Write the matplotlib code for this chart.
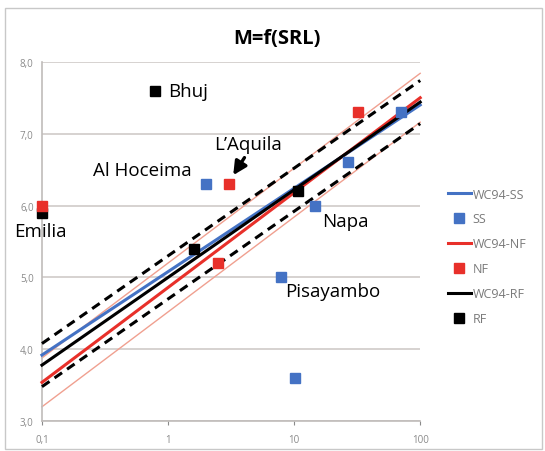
import numpy as np
import matplotlib.pyplot as plt
from matplotlib.patches import Rectangle

# regression lines M = a + b*log10(SRL)
srl_line = [0.1, 100]
wc94 = {'SS': (5.08, 1.16), 'NF': (4.86, 1.32), 'RF': (5.00, 1.22)}
sigma_rf = 0.30
sigma_nf = 0.34

# observed events
ss_srl = [2.0, 14.7, 26.9, 70.6, 7.9, 10.2]
ss_mag = [6.3, 6.0, 6.6, 7.3, 5.0, 3.6]
nf_srl = [0.1, 3.05, 2.5, 32.2]
nf_mag = [6.0, 6.3, 5.2, 7.3]
rf_srl = [0.79, 0.1, 1.6, 10.8]
rf_mag = [7.6, 5.9, 5.4, 6.2]

event_names = ['Bhuj', 'Al Hoceima', "L\u2019Aquila", 'Emilia', 'Napa', 'Pisayambo']

plt.rcParams['font.family'] = ['Open Sans', 'DejaVu Sans']

fig = plt.figure(figsize=(5.45, 4.52), dpi=100)
ax = fig.add_axes([0.077, 0.066, 0.694, 0.795])
fig.patches.append(Rectangle((0.01, 0.005), 0.985, 0.975, transform=fig.transFigure,
                             fill=False, edgecolor='#c8c8c8', lw=1))

blue, red = '#4472c4', '#e8302a'
x = np.array(srl_line)


def wc(kind):
    a, b = wc94[kind]
    return a + b * np.log10(x)


# bounds
ax.plot(x, wc('NF') + sigma_nf, color='#f0a090', lw=1, zorder=2)
ax.plot(x, wc('NF') - sigma_nf, color='#f0a090', lw=1, zorder=2)
ax.plot(x, wc('RF') + sigma_rf, color='black', lw=2.2, dashes=(3.0, 2.0), zorder=3)
ax.plot(x, wc('RF') - sigma_rf, color='black', lw=2.2, dashes=(3.0, 2.0), zorder=3)

l_ss, = ax.plot(x, wc('SS'), color=blue, lw=2.2, zorder=3, label='WC94-SS')
l_nf, = ax.plot(x, wc('NF'), color=red, lw=2.2, zorder=3, label='WC94-NF')
l_rf, = ax.plot(x, wc('RF'), color='black', lw=2.2, zorder=3, label='WC94-RF')

p_ss, = ax.plot(ss_srl, ss_mag, 's', color=blue, ms=7, ls='none', zorder=4, label='SS')
p_nf, = ax.plot(nf_srl, nf_mag, 's', color=red, ms=7, ls='none', zorder=5, label='NF')
p_rf, = ax.plot(rf_srl, rf_mag, 's', color='black', ms=7, ls='none', zorder=4, label='RF')

ax.set_xscale('log')
ax.set_xlim(0.1, 100)
ax.set_ylim(3.0, 8.0)
ax.set_xticks([0.1, 1, 10, 100])
ax.set_xticklabels(['0,1', '1', '10', '100'])
ax.set_yticks([3, 4, 5, 6, 7, 8])
ax.set_yticklabels(['3,0', '4,0', '5,0', '6,0', '7,0', '8,0'])
ax.minorticks_off()
ax.tick_params(axis='both', labelsize=7, colors='#8a8a8a', length=3)
ax.tick_params(axis='x', pad=6)
ax.tick_params(axis='y', length=0, pad=6)
ax.grid(axis='y', color='#d0cbc8', lw=1.2)
ax.set_axisbelow(True)
for s in ['top', 'right']:
    ax.spines[s].set_visible(False)
for s in ['left', 'bottom']:
    ax.spines[s].set_color('#c0bcba')
    ax.spines[s].set_linewidth(1.2)
for art in ax.lines:
    art.set_clip_on(False)

fig.text(0.508, 0.913, 'M=f(SRL)', ha='center', va='center', fontsize=14.5, fontweight='bold')

# event labels
fs = 13.5
ax.text(1.0, 7.6, event_names[0], fontsize=fs, va='center', ha='left')
ax.text(0.63, 6.49, event_names[1], fontsize=fs, va='center', ha='center')
ax.text(4.3, 6.86, event_names[2], fontsize=fs, va='center', ha='center')
ax.annotate('', xy=(3.2, 6.39), xytext=(4.15, 6.70),
            arrowprops=dict(arrowstyle='-|>', color='black', lw=2.4, mutation_scale=20))
ax.text(0.06, 5.65, event_names[3], fontsize=fs, va='center', ha='left')
ax.text(16.7, 5.78, event_names[4], fontsize=fs, va='center', ha='left')
ax.text(8.5, 4.81, event_names[5], fontsize=fs, va='center', ha='left')

ax.legend(handles=[l_ss, p_ss, l_nf, p_nf, l_rf, p_rf], loc='center left',
          bbox_to_anchor=(0.812, 0.431), bbox_transform=fig.transFigure, frameon=False,
          fontsize=9, labelcolor='#7a7a7a', handlelength=1.9, handletextpad=0.1,
          labelspacing=0.95, borderaxespad=0)

fig.savefig('out.png', dpi=100)
